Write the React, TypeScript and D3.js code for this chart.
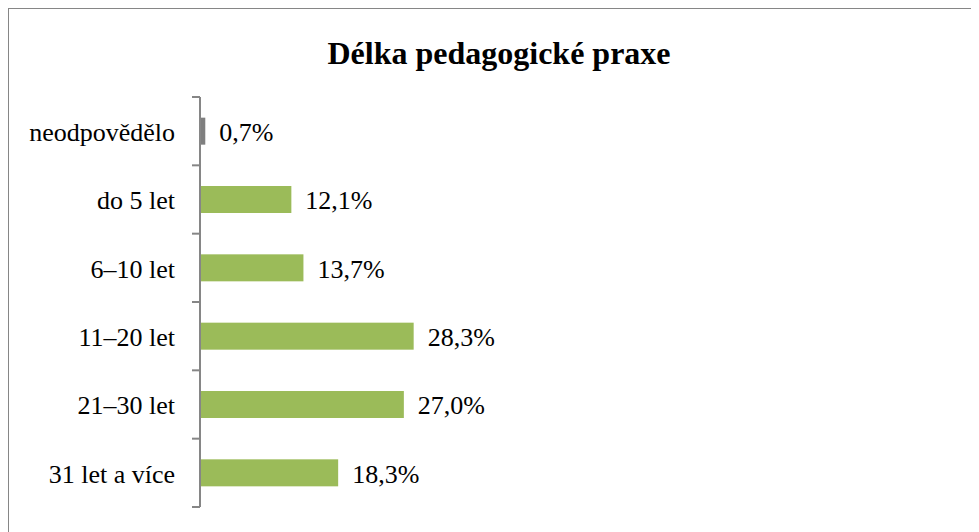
import React from "react";
import * as d3 from "d3";

const categories = ["neodpovědělo", "do 5 let", "6–10 let", "11–20 let", "21–30 let", "31 let a více"];
const values = [0.7, 12.1, 13.7, 28.3, 27.0, 18.3];
const labels = ["0,7%", "12,1%", "13,7%", "28,3%", "27,0%", "18,3%"];
const barColors = ["#7F7F7F", "#9BBB59", "#9BBB59", "#9BBB59", "#9BBB59", "#9BBB59"];
const title = "Délka pedagogické praxe";

export default function App() {
  const W = 980;
  const H = 530;
  const axisX = 192;
  const top = 89;
  const bottom = 499;
  const x = d3.scaleLinear().domain([0, 100]).range([axisX, axisX + 755]);
  const y = d3.scaleBand<string>().domain(categories).range([top, bottom]);
  const barH = 27;
  const font = "'Liberation Serif', 'Times New Roman', serif";
  const ticks = d3.range(categories.length + 1).map((i) => top + i * y.step());
  return (
    <svg width={W} height={H} style={{ display: "block", overflow: "visible" }}>
      <rect x={0} y={0} width={W + 10} height={H + 10} fill="#fff" stroke="#868686" strokeWidth={2} />
      <text x={491} y={56} textAnchor="middle" fontFamily={font} fontWeight="bold" fontSize={32} fill="#000">
        {title}
      </text>
      {categories.map((c, i) => {
        const yc = (y(c) as number) + y.bandwidth() / 2;
        return (
          <g key={c}>
            <rect x={x(0)} y={yc - barH / 2} width={x(values[i]) - x(0)} height={barH} fill={barColors[i]} />
            <text x={x(values[i]) + 14} y={yc} dy="0.38em" fontFamily={font} fontSize={26} fill="#000">
              {labels[i]}
            </text>
            <text x={axisX - 25} y={yc} dy="0.38em" textAnchor="end" fontFamily={font} fontSize={26} fill="#000">
              {c}
            </text>
          </g>
        );
      })}
      <line x1={axisX} x2={axisX} y1={top} y2={bottom} stroke="#868686" strokeWidth={2} />
      {ticks.map((t, i) => (
        <line key={i} x1={axisX - 8} x2={axisX} y1={t} y2={t} stroke="#868686" strokeWidth={2} />
      ))}
    </svg>
  );
}
